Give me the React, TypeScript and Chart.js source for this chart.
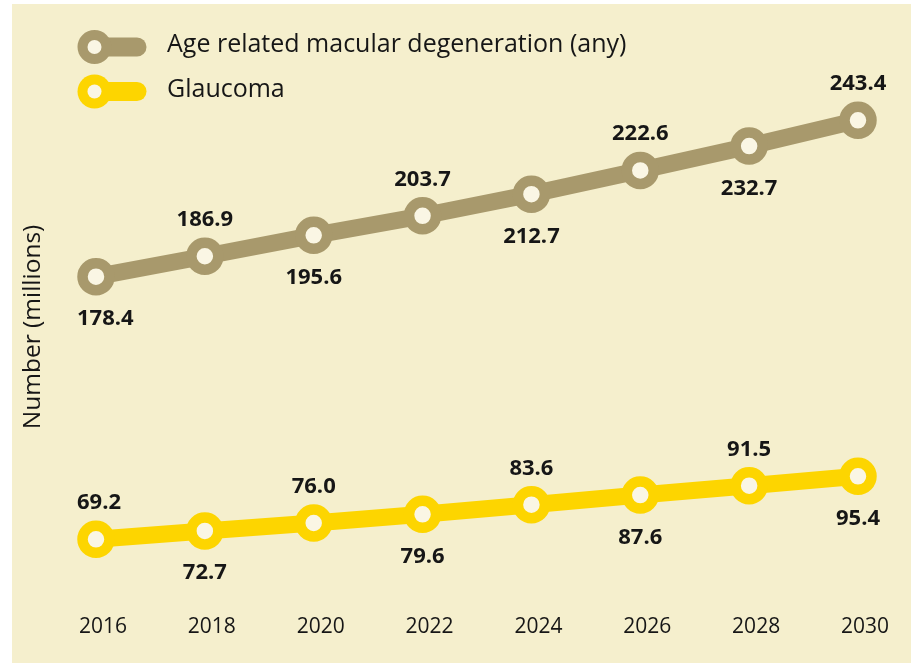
import React, { useEffect, useRef } from "react";
import { Chart, registerables } from "chart.js";

Chart.register(...registerables);

const years = ["2016", "2018", "2020", "2022", "2024", "2026", "2028", "2030"];
const amdValues = [178.4, 186.9, 195.6, 203.7, 212.7, 222.6, 232.7, 243.4];
const glaucomaValues = [69.2, 72.7, 76.0, 79.6, 83.6, 87.6, 91.5, 95.4];
const seriesNames = ["Age related macular degeneration (any)", "Glaucoma"];
const yAxisTitle = "Number (millions)";

const BG = "#f5efcd";
const HOLE = "#faf6e4";
const AMD_COLOR = "#a8996c";
const GLAUCOMA_COLOR = "#fdd500";
const TEXT = "#161616";
const FONT = '"Open Sans", sans-serif';

const valueLabelPlugin = {
  id: "valueLabels",
  afterDatasetsDraw(chart: any) {
    const { ctx, chartArea } = chart;
    ctx.save();
    ctx.font = `bold 22px ${FONT}`;
    ctx.fillStyle = TEXT;
    ctx.textAlign = "center";
    ctx.textBaseline = "alphabetic";
    chart.data.datasets.forEach((ds: any, di: number) => {
      const meta = chart.getDatasetMeta(di);
      meta.data.forEach((pt: any, i: number) => {
        const text = Number(ds.data[i]).toFixed(1);
        const w = ctx.measureText(text).width;
        let x = pt.x;
        x = Math.max(x, chartArea.left - 19 + w / 2);
        x = Math.min(x, chartArea.right + 29 - w / 2);
        const below = (i + di) % 2 === 0;
        const y = below ? pt.y + 48.5 : pt.y - 30;
        ctx.fillText(text, x, y);
      });
    });
    ctx.restore();
  },
};

const legendPlugin = {
  id: "stackedLegend",
  afterDraw(chart: any) {
    const { ctx } = chart;
    ctx.save();
    chart.data.datasets.forEach((ds: any, di: number) => {
      const cy = 43 + di * 44.5;
      const cx = 82.5;
      const color = ds.borderColor;
      ctx.strokeStyle = color;
      ctx.lineCap = "round";
      ctx.lineWidth = 19;
      ctx.beginPath();
      ctx.moveTo(cx, cy);
      ctx.lineTo(125, cy);
      ctx.stroke();
      ctx.fillStyle = color;
      ctx.beginPath();
      ctx.arc(cx, cy, 17, 0, Math.PI * 2);
      ctx.fill();
      ctx.fillStyle = HOLE;
      ctx.beginPath();
      ctx.arc(cx, cy, 7, 0, Math.PI * 2);
      ctx.fill();
      ctx.fillStyle = TEXT;
      ctx.font = `25px ${FONT}`;
      ctx.textAlign = "left";
      ctx.textBaseline = "alphabetic";
      ctx.fillText(ds.label, 155, cy + 5);
    });
    ctx.restore();
  },
};

export default function App() {
  const canvasRef = useRef<HTMLCanvasElement | null>(null);

  useEffect(() => {
    if (!canvasRef.current) return;
    Chart.defaults.font.family = FONT;
    const makeDataset = (label: string, data: number[], color: string) => ({
      label,
      data,
      borderColor: color,
      backgroundColor: color,
      borderWidth: 17,
      tension: 0,
      pointRadius: 13.5,
      pointHoverRadius: 13.5,
      pointBorderWidth: 10.5,
      pointHoverBorderWidth: 10.5,
      pointBackgroundColor: HOLE,
      pointBorderColor: color,
      clip: false as any,
    });
    const chart = new Chart(canvasRef.current, {
      type: "line",
      data: {
        labels: years,
        datasets: [
          makeDataset(seriesNames[0], amdValues, AMD_COLOR),
          makeDataset(seriesNames[1], glaucomaValues, GLAUCOMA_COLOR),
        ],
      },
      options: {
        responsive: false,
        animation: false,
        devicePixelRatio: 1,
        layout: { padding: { top: 64.4, left: 2, right: 47.5, bottom: 0 } },
        plugins: {
          legend: { display: false },
          tooltip: { enabled: false },
        },
        events: [],
        scales: {
          x: {
            offset: false,
            grid: { display: false, drawTicks: false },
            border: { display: false },
            ticks: {
              color: TEXT,
              font: { size: 21, family: FONT },
              padding: 29,
              labelOffset: 7,
              maxRotation: 0,
              autoSkip: false,
            },
            afterFit: (scale: any) => {
              scale.height = 77.5;
            },
          },
          y: {
            min: 50,
            max: 265,
            grid: { display: false, drawTicks: false },
            border: { display: false },
            ticks: { display: false },
            title: {
              display: true,
              text: yAxisTitle,
              color: TEXT,
              font: { size: 24.5, family: FONT },
              padding: { top: 4, bottom: 4 },
            },
            afterFit: (scale: any) => {
              scale.width = 82;
            },
          },
        },
      },
      plugins: [valueLabelPlugin, legendPlugin],
    });
    return () => chart.destroy();
  }, []);

  return (
    <div
      style={{
        position: "absolute",
        left: 12,
        top: 4,
        width: 899,
        height: 659,
        background: BG,
      }}
    >
      <canvas ref={canvasRef} width={899} height={659} style={{ display: "block" }} />
    </div>
  );
}
